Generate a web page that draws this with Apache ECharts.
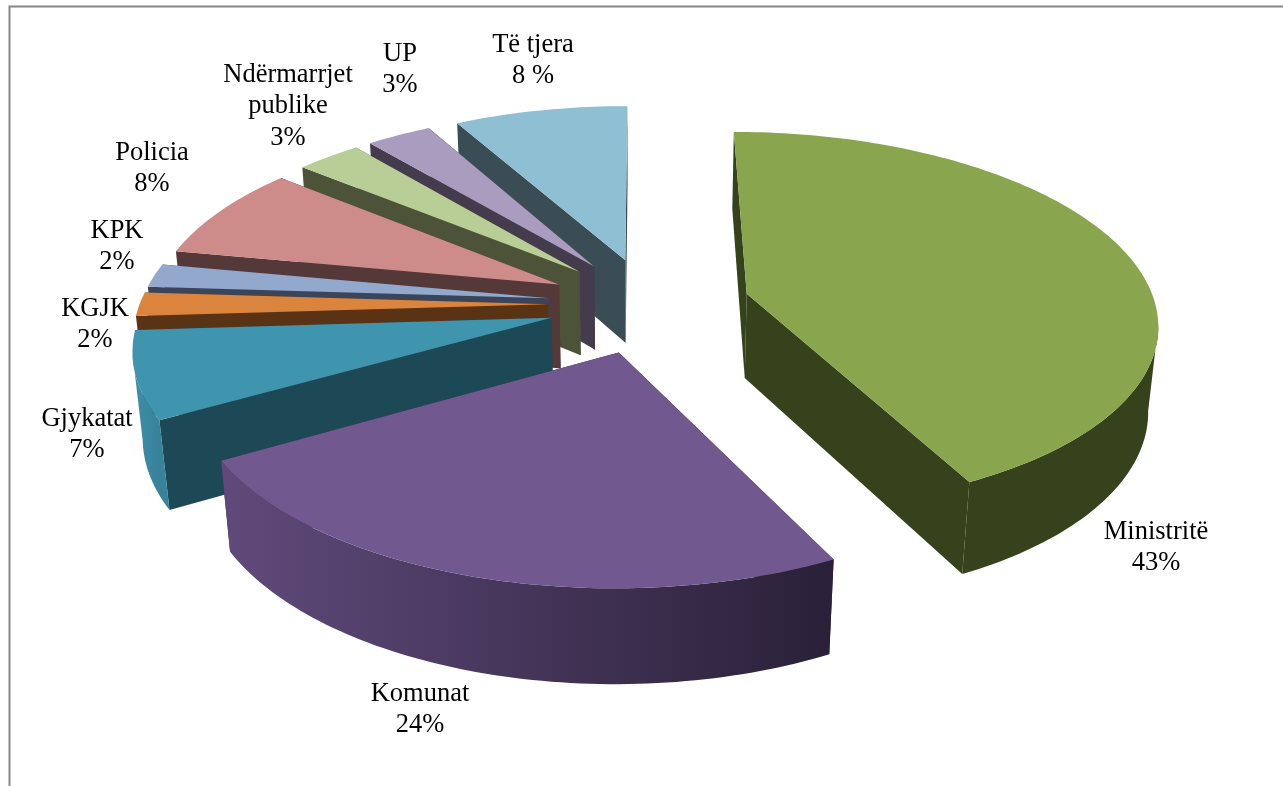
<!DOCTYPE html>
<html><head><meta charset="utf-8">
<style>html,body{margin:0;padding:0;background:#fff}#c{width:1283px;height:786px}</style>
<script src="https://cdn.jsdelivr.net/npm/echarts@6/dist/echarts.min.js"></script>
</head><body><div id="c"></div>
<script>
const categories = ['Ministritë','Komunat','Gjykatat','KGJK','KPK','Policia','Ndërmarrjet\npublike','UP','Të tjera'];
const shares = [42.6,24.1,7.3,2,2,8,3,3,8];
const shareLabels = ['43%','24%','7%','2%','2%','8%','3%','3%','8 %'];
const topColors = ['#89a54e','#71588f','#3f94ae','#db843d','#92a8cd','#cd8c8a','#b9cd96','#a99cbf','#8fbfd3'];
const cutColors = ['#36421b','#2f243c','#1d4956','#5a3315','#3b4559','#553838','#4c5339','#443c4d','#3a4d54'];
const wallStops = [['#36421b','#36421b'],['#604a7b','#2a2038'],['#3d8fa8','#38829a'],['#5a3315','#5a3315'],['#3b4559','#3b4559'],['#553838','#553838'],['#4c5339','#4c5339'],['#443c4d','#443c4d'],['#6f9fb2','#6f9fb2']];
const labelCentres = [[1156,530],[420,692],[87,417],[95,307],[117,229],[152,151],[288,73],[400,52],[533,43]];
const explosions = [0.245,0.26,0.25,0.25,0.25,0.25,0.25,0.25,0.25];

// 3D pie camera
const cam = {vx:642, horizon:-1023, nadir:4700, oy:293, f:405, wy:0.14, wz:0.0195, cx:0.02, cy:-0.06};
function project(X,Y,z){
  const W = 1 + cam.wy*Y + cam.wz*z;
  return [cam.vx + cam.f*X/W, (cam.oy + cam.wy*Y*cam.horizon + cam.wz*z*cam.nadir)/W];
}
const total = shares.reduce((a,b)=>a+b,0);
function sliceAngles(i){
  let s=0; for(let k=0;k<i;k++) s+=shares[k];
  return [s/total*2*Math.PI,(s+shares[i])/total*2*Math.PI];
}
function poly(points,fill){
  return {type:'polygon',shape:{points},style:{fill,stroke:null},silent:true};
}
function renderItem(params,api){
  const i = api.value(0);
  const [a0,a1] = sliceAngles(i);
  const mid = (a0+a1)/2;
  const ox = cam.cx + explosions[i]*Math.sin(mid), oy = cam.cy + explosions[i]*Math.cos(mid);
  const n = Math.max(6,Math.ceil((a1-a0)/0.02));
  const rimT=[],rimB=[];
  for(let k=0;k<=n;k++){
    const a=a0+(a1-a0)*k/n, X=ox+Math.sin(a), Y=oy+Math.cos(a);
    rimT.push(project(X,Y,0)); rimB.push(project(X,Y,1));
  }
  const apT=project(ox,oy,0), apB=project(ox,oy,1);
  const children=[];
  children.push(poly([rimT[0],apT,apB,rimB[0]],cutColors[i]));
  children.push(poly([rimT[n],apT,apB,rimB[n]],cutColors[i]));
  let run=[];
  for(let k=0;k<n;k++){ if(rimT[k+1][0]<rimT[k][0]) { if(!run.length) run.push(k); run.push(k+1);} }
  if(run.length){
    const t=run.map(k=>rimT[k]), b=run.map(k=>rimB[k]).reverse();
    const xs=t.map(p=>p[0]);
    const x0=Math.min(...xs), x1=Math.max(...xs);
    const fill=new echarts.graphic.LinearGradient(x0,0,x1,0,[{offset:0,color:wallStops[i][0]},{offset:1,color:wallStops[i][1]}],true);
    children.push(poly(t.concat(b),fill));
  }
  children.push(poly([apT].concat(rimT),topColors[i]));
  return {type:'group',children};
}
function labelElements(){
  return categories.map((c,i)=>{
    const lines=c.split('\n').concat(shareLabels[i]);
    const [x,y]=labelCentres[i];
    return {type:'text',x,y:y-14,silent:true,z:10,style:{
      text:lines.join('\n'),fill:'#000',font:'26.5px "Liberation Serif"',align:'center',verticalAlign:'top',lineHeight:31.5
    }};
  });
}
const chart=echarts.init(document.getElementById('c'),null,{renderer:'canvas'});
const order=shares.map((_,i)=>i).reverse();
chart.setOption({
  animation:false,
  backgroundColor:'#fff',
  series:[{type:'custom',coordinateSystem:'none',renderItem,clip:false,silent:true,
    data:order.map(i=>({name:categories[i],value:[i,shares[i]]}))}],
  graphic:[{type:'polyline',silent:true,z:0,shape:{points:[[9.5,800],[9.5,6.5],[1300,6.5]]},style:{stroke:'#868686',lineWidth:2,fill:null}}].concat(labelElements())
});
</script></body></html>
